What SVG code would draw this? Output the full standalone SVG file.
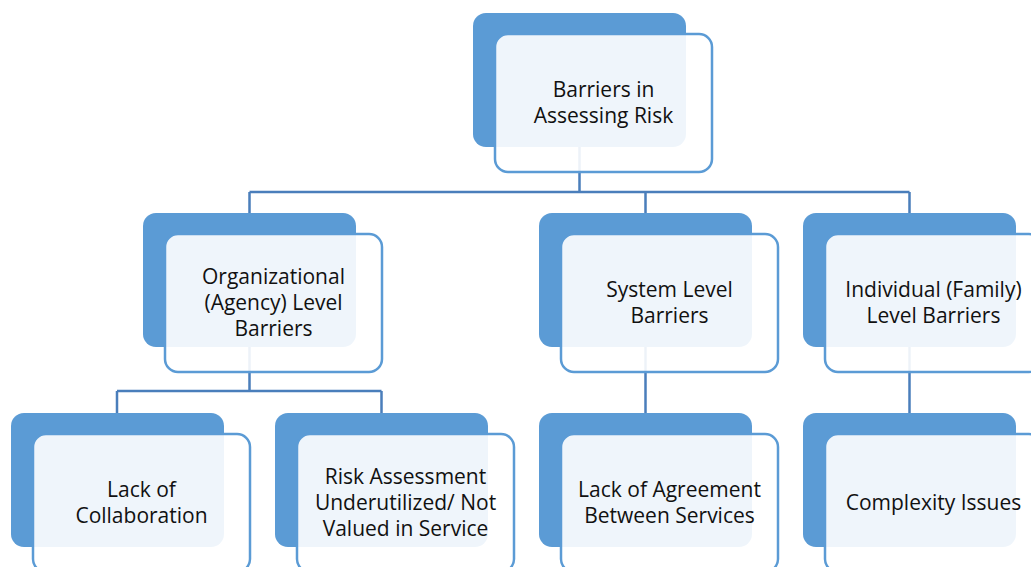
<svg xmlns="http://www.w3.org/2000/svg" width="1031" height="567" viewBox="0 0 1031 567">
<style>
.back{fill:#5B9BD5;}
.front{fill:#FFFFFF;fill-opacity:0.9;stroke:#5B9BD5;stroke-width:2.5;}
.conn{fill:none;stroke:#4A7EBB;stroke-width:2.5;}
.lbl{font-family:"Open Sans","Liberation Sans",sans-serif;font-size:21px;fill:#111111;text-anchor:middle;}
</style>
<rect width="1031" height="567" fill="#FFFFFF"/>
<g id="connectors">
<path class="conn" d="M579.5,147 V192 M249.5,192 H909.5 M249.5,192 V213 M645.5,192 V213 M909.5,192 V213"/>
<path class="conn" d="M249.5,347 V391 M117,391 H381.5 M117,391 V413 M381.5,391 V413"/>
<path class="conn" d="M645.5,347 V413"/>
<path class="conn" d="M909.5,347 V413"/>
</g>
<g id="root">
<rect class="back" x="473" y="13" width="213" height="134" rx="13"/>
<rect class="front" x="495" y="34" width="217" height="138" rx="13"/>
<text class="lbl" x="603.5"><tspan x="603.5" y="97">Barriers in</tspan><tspan x="603.5" y="123">Assessing Risk</tspan></text>
</g>
<g id="org">
<rect class="back" x="143" y="213" width="213" height="134" rx="13"/>
<rect class="front" x="165" y="234" width="217" height="138" rx="13"/>
<text class="lbl"><tspan x="273.5" y="284">Organizational</tspan><tspan x="273.5" y="310">(Agency) Level</tspan><tspan x="273.5" y="336">Barriers</tspan></text>
</g>
<g id="system">
<rect class="back" x="539" y="213" width="213" height="134" rx="13"/>
<rect class="front" x="561" y="234" width="217" height="138" rx="13"/>
<text class="lbl"><tspan x="669.5" y="297">System Level</tspan><tspan x="669.5" y="323">Barriers</tspan></text>
</g>
<g id="individual">
<rect class="back" x="803" y="213" width="213" height="134" rx="13"/>
<rect class="front" x="825" y="234" width="217" height="138" rx="13"/>
<text class="lbl"><tspan x="933.5" y="297">Individual (Family)</tspan><tspan x="933.5" y="323">Level Barriers</tspan></text>
</g>
<g id="collab">
<rect class="back" x="11" y="413" width="213" height="134" rx="13"/>
<rect class="front" x="33" y="434" width="217" height="138" rx="13"/>
<text class="lbl"><tspan x="141.5" y="497">Lack of</tspan><tspan x="141.5" y="523">Collaboration</tspan></text>
</g>
<g id="riskassess">
<rect class="back" x="275" y="413" width="213" height="134" rx="13"/>
<rect class="front" x="297" y="434" width="217" height="138" rx="13"/>
<text class="lbl"><tspan x="405.5" y="484">Risk Assessment</tspan><tspan x="405.5" y="510">Underutilized/ Not</tspan><tspan x="405.5" y="536">Valued in Service</tspan></text>
</g>
<g id="agreement">
<rect class="back" x="539" y="413" width="213" height="134" rx="13"/>
<rect class="front" x="561" y="434" width="217" height="138" rx="13"/>
<text class="lbl"><tspan x="669.5" y="497">Lack of Agreement</tspan><tspan x="669.5" y="523">Between Services</tspan></text>
</g>
<g id="complexity">
<rect class="back" x="803" y="413" width="213" height="134" rx="13"/>
<rect class="front" x="825" y="434" width="217" height="138" rx="13"/>
<text class="lbl"><tspan x="933.5" y="510">Complexity Issues</tspan></text>
</g>
</svg>
